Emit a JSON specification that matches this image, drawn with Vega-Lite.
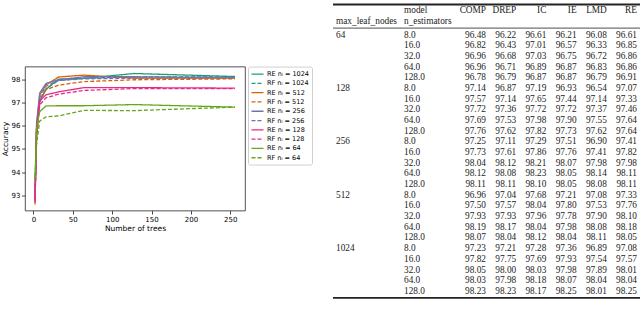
{
  "$schema": "https://vega.github.io/schema/vega-lite/v6.json",
  "padding": 0,
  "background": "white",
  "spacing": 19,
  "center": true,
  "resolve": {"scale": {"color": "independent", "strokeDash": "independent"}, "legend": {"color": "independent", "strokeDash": "independent"}},
  "config": {
    "font": "DejaVu Sans",
    "view": {"stroke": null},
    "axis": {"grid": false, "domain": false, "labelFont": "DejaVu Sans", "titleFont": "DejaVu Sans", "labelFontSize": 7, "titleFontSize": 7.5, "titleFontWeight": "normal", "labelColor": "#000", "titleColor": "#000", "tickColor": "#222", "tickSize": 3.5, "tickWidth": 0.8, "labelPadding": 1.5},
    "legend": {"orient": "right", "offset": 3, "symbolType": "M-1.5,0H1.5", "symbolSize": 64, "symbolOffset": 2, "symbolStrokeWidth": 1.3, "labelFontSize": 6.5, "labelFont": "DejaVu Sans", "labelColor": "#000", "rowPadding": 0.3, "padding": 2.5, "strokeColor": "#d0d0d0", "fillColor": "white", "cornerRadius": 2, "labelOffset": 4.5, "labelLimit": 0}
  },
  "datasets": {
    "lines": [
      {"series": "RE nₗ = 1024", "trees": 2, "acc": 93.0}, {"series": "RE nₗ = 1024", "trees": 4, "acc": 95.8}, {"series": "RE nₗ = 1024", "trees": 8, "acc": 97.08}, {"series": "RE nₗ = 1024", "trees": 16, "acc": 97.57}, {"series": "RE nₗ = 1024", "trees": 32, "acc": 98.01}, {"series": "RE nₗ = 1024", "trees": 64, "acc": 98.04}, {"series": "RE nₗ = 1024", "trees": 128, "acc": 98.25}, {"series": "RE nₗ = 1024", "trees": 256, "acc": 98.12},
      {"series": "RF nₗ = 1024", "trees": 2, "acc": 92.9}, {"series": "RF nₗ = 1024", "trees": 4, "acc": 95.6}, {"series": "RF nₗ = 1024", "trees": 8, "acc": 97.0}, {"series": "RF nₗ = 1024", "trees": 16, "acc": 97.6}, {"series": "RF nₗ = 1024", "trees": 32, "acc": 97.95}, {"series": "RF nₗ = 1024", "trees": 64, "acc": 98.05}, {"series": "RF nₗ = 1024", "trees": 128, "acc": 98.1}, {"series": "RF nₗ = 1024", "trees": 256, "acc": 98.1},
      {"series": "RE nₗ = 512", "trees": 2, "acc": 92.7}, {"series": "RE nₗ = 512", "trees": 4, "acc": 96.0}, {"series": "RE nₗ = 512", "trees": 8, "acc": 97.33}, {"series": "RE nₗ = 512", "trees": 16, "acc": 97.76}, {"series": "RE nₗ = 512", "trees": 32, "acc": 98.1}, {"series": "RE nₗ = 512", "trees": 64, "acc": 98.18}, {"series": "RE nₗ = 512", "trees": 128, "acc": 98.05}, {"series": "RE nₗ = 512", "trees": 256, "acc": 98.05},
      {"series": "RF nₗ = 512", "trees": 2, "acc": 92.6}, {"series": "RF nₗ = 512", "trees": 4, "acc": 95.5}, {"series": "RF nₗ = 512", "trees": 8, "acc": 97.1}, {"series": "RF nₗ = 512", "trees": 16, "acc": 97.55}, {"series": "RF nₗ = 512", "trees": 32, "acc": 97.75}, {"series": "RF nₗ = 512", "trees": 64, "acc": 97.9}, {"series": "RF nₗ = 512", "trees": 128, "acc": 97.98}, {"series": "RF nₗ = 512", "trees": 256, "acc": 98.02},
      {"series": "RE nₗ = 256", "trees": 2, "acc": 92.9}, {"series": "RE nₗ = 256", "trees": 4, "acc": 96.1}, {"series": "RE nₗ = 256", "trees": 8, "acc": 97.41}, {"series": "RE nₗ = 256", "trees": 16, "acc": 97.82}, {"series": "RE nₗ = 256", "trees": 32, "acc": 97.98}, {"series": "RE nₗ = 256", "trees": 64, "acc": 98.11}, {"series": "RE nₗ = 256", "trees": 128, "acc": 98.11}, {"series": "RE nₗ = 256", "trees": 256, "acc": 98.08},
      {"series": "RF nₗ = 256", "trees": 2, "acc": 92.8}, {"series": "RF nₗ = 256", "trees": 4, "acc": 95.7}, {"series": "RF nₗ = 256", "trees": 8, "acc": 97.2}, {"series": "RF nₗ = 256", "trees": 16, "acc": 97.7}, {"series": "RF nₗ = 256", "trees": 32, "acc": 97.95}, {"series": "RF nₗ = 256", "trees": 64, "acc": 98.02}, {"series": "RF nₗ = 256", "trees": 128, "acc": 98.05}, {"series": "RF nₗ = 256", "trees": 256, "acc": 98.06},
      {"series": "RE nₗ = 128", "trees": 2, "acc": 92.7}, {"series": "RE nₗ = 128", "trees": 4, "acc": 95.9}, {"series": "RE nₗ = 128", "trees": 8, "acc": 97.07}, {"series": "RE nₗ = 128", "trees": 16, "acc": 97.33}, {"series": "RE nₗ = 128", "trees": 32, "acc": 97.46}, {"series": "RE nₗ = 128", "trees": 64, "acc": 97.64}, {"series": "RE nₗ = 128", "trees": 128, "acc": 97.64}, {"series": "RE nₗ = 128", "trees": 256, "acc": 97.62},
      {"series": "RF nₗ = 128", "trees": 2, "acc": 92.8}, {"series": "RF nₗ = 128", "trees": 4, "acc": 95.5}, {"series": "RF nₗ = 128", "trees": 8, "acc": 96.9}, {"series": "RF nₗ = 128", "trees": 16, "acc": 97.2}, {"series": "RF nₗ = 128", "trees": 32, "acc": 97.36}, {"series": "RF nₗ = 128", "trees": 64, "acc": 97.52}, {"series": "RF nₗ = 128", "trees": 128, "acc": 97.6}, {"series": "RF nₗ = 128", "trees": 256, "acc": 97.6},
      {"series": "RE nₗ = 64", "trees": 2, "acc": 93.7}, {"series": "RE nₗ = 64", "trees": 4, "acc": 95.9}, {"series": "RE nₗ = 64", "trees": 8, "acc": 96.61}, {"series": "RE nₗ = 64", "trees": 16, "acc": 96.85}, {"series": "RE nₗ = 64", "trees": 32, "acc": 96.86}, {"series": "RE nₗ = 64", "trees": 64, "acc": 96.86}, {"series": "RE nₗ = 64", "trees": 128, "acc": 96.91}, {"series": "RE nₗ = 64", "trees": 256, "acc": 96.8},
      {"series": "RF nₗ = 64", "trees": 2, "acc": 93.8}, {"series": "RF nₗ = 64", "trees": 4, "acc": 95.2}, {"series": "RF nₗ = 64", "trees": 8, "acc": 96.2}, {"series": "RF nₗ = 64", "trees": 16, "acc": 96.38}, {"series": "RF nₗ = 64", "trees": 32, "acc": 96.42}, {"series": "RF nₗ = 64", "trees": 64, "acc": 96.66}, {"series": "RF nₗ = 64", "trees": 128, "acc": 96.65}, {"series": "RF nₗ = 64", "trees": 256, "acc": 96.8}
    ],
    "table": [
      {"mln": 64, "ne": "8.0", "COMP": 96.48, "DREP": 96.22, "IC": 96.61, "IE": 96.21, "LMD": 96.08, "RE": 96.61},
      {"mln": 64, "ne": "16.0", "COMP": 96.82, "DREP": 96.43, "IC": 97.01, "IE": 96.57, "LMD": 96.33, "RE": 96.85},
      {"mln": 64, "ne": "32.0", "COMP": 96.96, "DREP": 96.68, "IC": 97.03, "IE": 96.75, "LMD": 96.72, "RE": 96.86},
      {"mln": 64, "ne": "64.0", "COMP": 96.96, "DREP": 96.71, "IC": 96.89, "IE": 96.87, "LMD": 96.83, "RE": 96.86},
      {"mln": 64, "ne": "128.0", "COMP": 96.78, "DREP": 96.79, "IC": 96.87, "IE": 96.87, "LMD": 96.79, "RE": 96.91},
      {"mln": 128, "ne": "8.0", "COMP": 97.14, "DREP": 96.87, "IC": 97.19, "IE": 96.93, "LMD": 96.54, "RE": 97.07},
      {"mln": 128, "ne": "16.0", "COMP": 97.57, "DREP": 97.14, "IC": 97.65, "IE": 97.44, "LMD": 97.14, "RE": 97.33},
      {"mln": 128, "ne": "32.0", "COMP": 97.72, "DREP": 97.36, "IC": 97.72, "IE": 97.72, "LMD": 97.37, "RE": 97.46},
      {"mln": 128, "ne": "64.0", "COMP": 97.69, "DREP": 97.53, "IC": 97.98, "IE": 97.90, "LMD": 97.55, "RE": 97.64},
      {"mln": 128, "ne": "128.0", "COMP": 97.76, "DREP": 97.62, "IC": 97.82, "IE": 97.73, "LMD": 97.62, "RE": 97.64},
      {"mln": 256, "ne": "8.0", "COMP": 97.25, "DREP": 97.11, "IC": 97.29, "IE": 97.51, "LMD": 96.90, "RE": 97.41},
      {"mln": 256, "ne": "16.0", "COMP": 97.73, "DREP": 97.61, "IC": 97.86, "IE": 97.76, "LMD": 97.41, "RE": 97.82},
      {"mln": 256, "ne": "32.0", "COMP": 98.04, "DREP": 98.12, "IC": 98.21, "IE": 98.07, "LMD": 97.98, "RE": 97.98},
      {"mln": 256, "ne": "64.0", "COMP": 98.12, "DREP": 98.08, "IC": 98.23, "IE": 98.05, "LMD": 98.14, "RE": 98.11},
      {"mln": 256, "ne": "128.0", "COMP": 98.11, "DREP": 98.11, "IC": 98.10, "IE": 98.05, "LMD": 98.08, "RE": 98.11},
      {"mln": 512, "ne": "8.0", "COMP": 96.96, "DREP": 97.04, "IC": 97.68, "IE": 97.21, "LMD": 97.08, "RE": 97.33},
      {"mln": 512, "ne": "16.0", "COMP": 97.50, "DREP": 97.57, "IC": 98.04, "IE": 97.80, "LMD": 97.53, "RE": 97.76},
      {"mln": 512, "ne": "32.0", "COMP": 97.93, "DREP": 97.93, "IC": 97.96, "IE": 97.78, "LMD": 97.90, "RE": 98.10},
      {"mln": 512, "ne": "64.0", "COMP": 98.19, "DREP": 98.17, "IC": 98.04, "IE": 97.98, "LMD": 98.08, "RE": 98.18},
      {"mln": 512, "ne": "128.0", "COMP": 98.07, "DREP": 98.04, "IC": 98.12, "IE": 98.04, "LMD": 98.11, "RE": 98.05},
      {"mln": 1024, "ne": "8.0", "COMP": 97.23, "DREP": 97.21, "IC": 97.28, "IE": 97.36, "LMD": 96.89, "RE": 97.08},
      {"mln": 1024, "ne": "16.0", "COMP": 97.82, "DREP": 97.75, "IC": 97.69, "IE": 97.93, "LMD": 97.54, "RE": 97.57},
      {"mln": 1024, "ne": "32.0", "COMP": 98.05, "DREP": 98.00, "IC": 98.03, "IE": 97.98, "LMD": 97.89, "RE": 98.01},
      {"mln": 1024, "ne": "64.0", "COMP": 98.03, "DREP": 97.98, "IC": 98.18, "IE": 98.07, "LMD": 98.04, "RE": 98.04},
      {"mln": 1024, "ne": "128.0", "COMP": 98.23, "DREP": 98.23, "IC": 98.17, "IE": 98.25, "LMD": 98.01, "RE": 98.25}
    ],
    "headers": [
      {"text": "model", "col": "n_estimators", "row": "h1"},
      {"text": "max_leaf_nodes", "col": "max_leaf_nodes", "row": "h2"},
      {"text": "n_estimators", "col": "n_estimators", "row": "h2"},
      {"text": "COMP", "col": "COMP", "row": "h1"},
      {"text": "DREP", "col": "DREP", "row": "h1"},
      {"text": "IC", "col": "IC", "row": "h1"},
      {"text": "IE", "col": "IE", "row": "h1"},
      {"text": "LMD", "col": "LMD", "row": "h1"},
      {"text": "RE", "col": "RE", "row": "h1"}
    ]
  },
  "hconcat": [
    {
      "width": 220,
      "height": 144,
      "view": {"stroke": "#262626", "strokeWidth": 0.8},
      "data": {"name": "lines"},
      "mark": {"type": "line", "strokeWidth": 1.3},
      "encoding": {
        "x": {"field": "trees", "type": "quantitative", "scale": {"domain": [-10.7, 268.7], "nice": false, "zero": false}, "axis": {"values": [0, 50, 100, 150, 200, 250], "title": "Number of trees", "titlePadding": 2}},
        "y": {"field": "acc", "type": "quantitative", "scale": {"domain": [92.34, 98.55], "nice": false, "zero": false}, "axis": {"values": [93, 94, 95, 96, 97, 98], "title": "Accuracy", "titlePadding": 2}},
        "color": {"field": "series", "type": "nominal", "title": null, "sort": null,
          "scale": {"domain": ["RE nₗ = 1024", "RF nₗ = 1024", "RE nₗ = 512", "RF nₗ = 512", "RE nₗ = 256", "RF nₗ = 256", "RE nₗ = 128", "RF nₗ = 128", "RE nₗ = 64", "RF nₗ = 64"],
                    "range": ["#1b9e77", "#1b9e77", "#d95f02", "#d95f02", "#7570b3", "#7570b3", "#e7298a", "#e7298a", "#66a61e", "#66a61e"]}},
        "strokeDash": {"field": "series", "type": "nominal", "title": null, "sort": null,
          "scale": {"domain": ["RE nₗ = 1024", "RF nₗ = 1024", "RE nₗ = 512", "RF nₗ = 512", "RE nₗ = 256", "RF nₗ = 256", "RE nₗ = 128", "RF nₗ = 128", "RE nₗ = 64", "RF nₗ = 64"],
                    "range": [[1, 0], [4, 2], [1, 0], [4, 2], [1, 0], [4, 2], [1, 0], [4, 2], [1, 0], [4, 2]]}}
      }
    },
    {
      "spacing": 0,
      "bounds": "flush",
      "hconcat": [
        {
          "width": 150,
          "height": 299,
          "view": {"stroke": null},
          "encoding": {
            "x": {"type": "nominal", "axis": null, "scale": {"type": "point", "domain": ["max_leaf_nodes", "n_estimators"], "padding": 0.603, "align": 0.0366}},
            "y": {"type": "nominal", "axis": null, "scale": {"type": "point", "domain": ["h1", "h2", "64/8.0", "64/16.0", "64/32.0", "64/64.0", "64/128.0", "128/8.0", "128/16.0", "128/32.0", "128/64.0", "128/128.0", "256/8.0", "256/16.0", "256/32.0", "256/64.0", "256/128.0", "512/8.0", "512/16.0", "512/32.0", "512/64.0", "512/128.0", "1024/8.0", "1024/16.0", "1024/32.0", "1024/64.0", "1024/128.0"], "padding": 1.125, "align": 0.62}}
          },
          "layer": [
            {"data": {"values": [{}]}, "mark": {"type": "rule", "color": "#222", "strokeWidth": 2, "yOffset": -19.5}, "encoding": {"y": {"datum": "h2", "type": "nominal"}}},
            {"data": {"values": [{}]}, "mark": {"type": "rule", "color": "#222", "strokeWidth": 0.8, "yOffset": -6.5}, "encoding": {"y": {"datum": "64/8.0", "type": "nominal"}}},
            {"data": {"values": [{}]}, "mark": {"type": "rule", "color": "#222", "strokeWidth": 1.6, "yOffset": 7}, "encoding": {"y": {"datum": "1024/128.0", "type": "nominal"}}},
            {
              "data": {"name": "headers"},
              "transform": [{"filter": "datum.col == 'max_leaf_nodes' || datum.col == 'n_estimators'"}],
              "mark": {"type": "text", "align": "left", "baseline": "middle", "font": "Liberation Serif", "fontSize": 9.3, "color": "#222", "yOffset": -3},
              "encoding": {"x": {"field": "col", "type": "nominal"}, "y": {"field": "row", "type": "nominal"}, "text": {"field": "text"}}
            },
            {
              "data": {"name": "table"},
              "transform": [{"filter": "datum.ne == '8.0'"}, {"calculate": "datum.mln + '/' + datum.ne", "as": "key"}, {"calculate": "'max_leaf_nodes'", "as": "col"}],
              "mark": {"type": "text", "align": "left", "baseline": "middle", "font": "Liberation Serif", "fontSize": 9.3, "color": "#222"},
              "encoding": {"x": {"field": "col", "type": "nominal"}, "y": {"field": "key", "type": "nominal"}, "text": {"field": "mln"}}
            },
            {
              "data": {"name": "table"},
              "transform": [{"calculate": "datum.mln + '/' + datum.ne", "as": "key"}, {"calculate": "'n_estimators'", "as": "col"}],
              "mark": {"type": "text", "align": "left", "baseline": "middle", "font": "Liberation Serif", "fontSize": 9.3, "color": "#222"},
              "encoding": {"x": {"field": "col", "type": "nominal"}, "y": {"field": "key", "type": "nominal"}, "text": {"field": "ne"}}
            }
          ]
        },
        {
          "width": 160,
          "height": 299,
          "view": {"stroke": null},
          "encoding": {
            "x": {"type": "nominal", "axis": null, "scale": {"type": "point", "domain": ["COMP", "DREP", "IC", "IE", "LMD", "RE"], "padding": 0.149, "align": 0.333}},
            "y": {"type": "nominal", "axis": null, "scale": {"type": "point", "domain": ["h1", "h2", "64/8.0", "64/16.0", "64/32.0", "64/64.0", "64/128.0", "128/8.0", "128/16.0", "128/32.0", "128/64.0", "128/128.0", "256/8.0", "256/16.0", "256/32.0", "256/64.0", "256/128.0", "512/8.0", "512/16.0", "512/32.0", "512/64.0", "512/128.0", "1024/8.0", "1024/16.0", "1024/32.0", "1024/64.0", "1024/128.0"], "padding": 1.125, "align": 0.62}}
          },
          "layer": [
            {"data": {"values": [{}]}, "mark": {"type": "rule", "color": "#222", "strokeWidth": 2, "yOffset": -19.5}, "encoding": {"y": {"datum": "h2", "type": "nominal"}}},
            {"data": {"values": [{}]}, "mark": {"type": "rule", "color": "#222", "strokeWidth": 0.8, "yOffset": -6.5}, "encoding": {"y": {"datum": "64/8.0", "type": "nominal"}}},
            {"data": {"values": [{}]}, "mark": {"type": "rule", "color": "#222", "strokeWidth": 1.6, "yOffset": 7}, "encoding": {"y": {"datum": "1024/128.0", "type": "nominal"}}},
            {
              "data": {"name": "headers"},
              "transform": [{"filter": "datum.col != 'max_leaf_nodes' && datum.col != 'n_estimators'"}],
              "mark": {"type": "text", "align": "right", "baseline": "middle", "font": "Liberation Serif", "fontSize": 9.3, "color": "#222", "yOffset": -3},
              "encoding": {"x": {"field": "col", "type": "nominal"}, "y": {"field": "row", "type": "nominal"}, "text": {"field": "text"}}
            },
            {
              "data": {"name": "table"},
              "transform": [{"calculate": "datum.mln + '/' + datum.ne", "as": "key"}, {"fold": ["COMP", "DREP", "IC", "IE", "LMD", "RE"], "as": ["col", "value"]}],
              "mark": {"type": "text", "align": "right", "baseline": "middle", "font": "Liberation Serif", "fontSize": 9.3, "color": "#222"},
              "encoding": {"x": {"field": "col", "type": "nominal"}, "y": {"field": "key", "type": "nominal"}, "text": {"field": "value", "format": ".2f"}}
            }
          ]
        }
      ]
    }
  ]
}
